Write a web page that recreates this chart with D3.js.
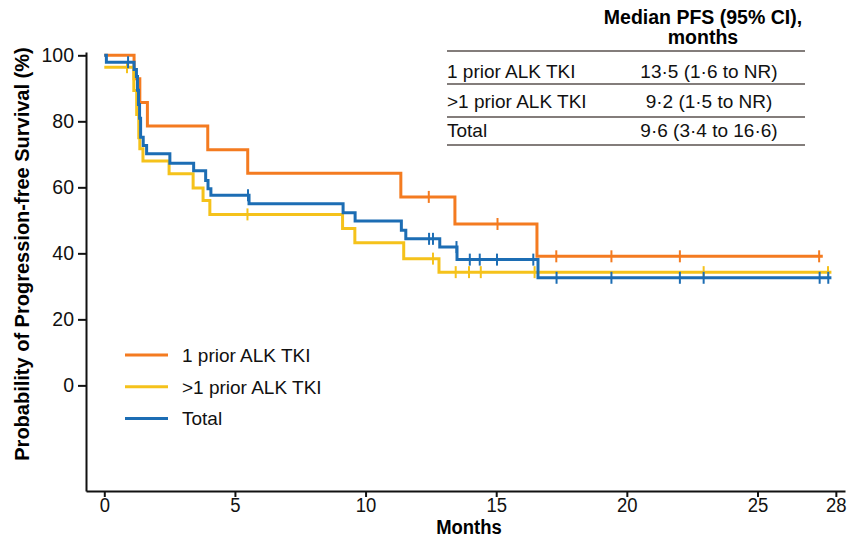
<!DOCTYPE html>
<html>
<head>
<meta charset="utf-8">
<script src="https://cdn.jsdelivr.net/npm/d3@7"></script>
<style>
body { margin: 0; background: #fff; }
text { font-family: "Liberation Sans", Arial, sans-serif; }
</style>
</head>
<body>
<script>
// KM curves: step times (months) and survival (%) after each step
var orangeTimes = [0, 1.14, 1.36, 1.65, 3.96, 5.49, 11.35, 13.42, 16.56, 27.5];
var orangeSurv = [100, 92.9, 85.7, 78.6, 71.4, 64.3, 57.1, 48.9, 39.1, 39.1];
var orangeCensor = [12.42, 15.05, 17.3, 19.41, 22.03, 27.36];

var yellowTimes = [0, 1.13, 1.24, 1.32, 1.36, 1.48, 2.48, 3.4, 3.78, 4.04, 9.12, 9.59, 11.46, 12.81, 27.83];
var yellowSurv = [96.4, 89.3, 82.1, 75, 71.7, 68, 64.1, 59.8, 56, 51.8, 47.5, 43.2, 38.4, 34.3, 34.3];
var yellowCensor = [0.87, 5.48, 12.58, 13.45, 13.96, 14.41, 16.47, 22.94, 27.7];

var blueTimes = [0, 0.08, 1.14, 1.23, 1.27, 1.31, 1.35, 1.39, 1.49, 1.62, 2.51, 3.42, 3.88, 3.97, 4.08, 5.54, 9.14, 9.6, 11.37, 11.54, 12.84, 13.5, 16.6, 27.83];
var blueSurv = [100, 97.9, 95.7, 93.6, 89.4, 85.1, 80.9, 75.2, 72.7, 70.2, 67.3, 65, 62.1, 59.6, 57.6, 55, 52.3, 49.8, 47, 44.4, 41.9, 38.1, 32.6, 32.6];
var blueCensor = [0.91, 5.5, 12.43, 12.58, 13.48, 13.99, 14.37, 15.03, 16.42, 17.31, 19.41, 22.03, 22.94, 27.38, 27.71];

var xTicks = [0, 5, 10, 15, 20, 25, 28];
var yTicks = [0, 20, 40, 60, 80, 100];

var groupNames = ['1 prior ALK TKI', '>1 prior ALK TKI', 'Total'];
var medianText = ['13\u00b75 (1\u00b76 to NR)', '9\u00b72 (1\u00b75 to NR)', '9\u00b76 (3\u00b74 to 16\u00b76)'];
var colors = ['#f47b20', '#f5c21b', '#1c6db4'];

var series = [
    {times: orangeTimes, surv: orangeSurv, censor: orangeCensor, color: colors[0]},
    {times: yellowTimes, surv: yellowSurv, censor: yellowCensor, color: colors[1]},
    {times: blueTimes, surv: blueSurv, censor: blueCensor, color: colors[2]}
];

var svg = d3.select('body').append('svg')
    .attr('width', 851).attr('height', 538);

var x = d3.scaleLinear().domain([-0.7, 28.35]).range([86, 845]);
var y = d3.scaleLinear().domain([-32, 101]).range([491, 52]);

// axes
var xAxis = svg.append('g')
    .attr('transform', 'translate(0,491)')
    .call(d3.axisBottom(x).tickValues(xTicks).tickSize(6).tickSizeOuter(0).tickPadding(0));
xAxis.selectAll('text')
    .style('font-size', '21px').attr('fill', '#111')
    .attr('transform', 'scale(0.88,1)');

var yAxis = svg.append('g')
    .attr('transform', 'translate(86,0)')
    .call(d3.axisLeft(y).tickValues(yTicks).tickSize(8).tickSizeOuter(0).tickPadding(4));
yAxis.selectAll('text').style('font-size', '19.5px').attr('fill', '#111');

svg.selectAll('.domain, .tick line').attr('stroke', '#111').attr('stroke-width', 2);

svg.append('text')
    .attr('transform', 'translate(469,534) scale(0.9,1)')
    .attr('text-anchor', 'middle')
    .style('font-weight', 'bold').style('font-size', '20.5px')
    .text('Months');

svg.append('text')
    .attr('transform', 'translate(29,254) rotate(-90)')
    .attr('text-anchor', 'middle')
    .style('font-weight', 'bold').style('font-size', '20px')
    .text('Probability of Progression-free Survival (%)');

// curves
var line = d3.line()
    .x(function(d) { return x(d[0]); })
    .y(function(d) { return y(d[1]); })
    .curve(d3.curveStepAfter);

series.forEach(function(s) {
    var pts = s.times.map(function(t, i) { return [t, s.surv[i]]; });
    svg.append('path')
        .datum(pts)
        .attr('fill', 'none')
        .attr('stroke', s.color)
        .attr('stroke-width', 3)
        .attr('d', line);

    svg.selectAll(null)
        .data(s.censor)
        .enter().append('line')
        .attr('x1', function(d) { return x(d); })
        .attr('x2', function(d) { return x(d); })
        .attr('y1', function(d) { return y(s.surv[d3.bisectRight(s.times, d) - 1]) - 6; })
        .attr('y2', function(d) { return y(s.surv[d3.bisectRight(s.times, d) - 1]) + 6; })
        .attr('stroke', s.color)
        .attr('stroke-width', 2);
});

// legend
var legend = svg.append('g');
groupNames.forEach(function(name, i) {
    var ly = 355 + i * 31.7;
    legend.append('line')
        .attr('x1', 125).attr('x2', 168)
        .attr('y1', ly).attr('y2', ly)
        .attr('stroke', colors[i]).attr('stroke-width', 3);
    legend.append('text')
        .attr('x', 182).attr('y', ly + 7)
        .style('font-size', '19px').attr('fill', '#111')
        .text(name);
});

// median table
var tbl = svg.append('g');
tbl.append('text').attr('x', 703).attr('y', 24)
    .attr('text-anchor', 'middle')
    .style('font-weight', 'bold').style('font-size', '19.5px')
    .text('Median PFS (95% CI),');
tbl.append('text').attr('x', 703).attr('y', 44)
    .attr('text-anchor', 'middle')
    .style('font-weight', 'bold').style('font-size', '19.5px')
    .text('months');

var rowLines = [51, 84, 117, 145];
rowLines.forEach(function(ly) {
    tbl.append('line')
        .attr('x1', 447).attr('x2', 805)
        .attr('y1', ly).attr('y2', ly)
        .attr('stroke', '#5a524f').attr('stroke-width', 1.5);
});

groupNames.forEach(function(name, i) {
    var by = 78 + i * 29.5;
    tbl.append('text').attr('x', 447).attr('y', by)
        .style('font-size', '19px').attr('fill', '#111')
        .text(name);
    tbl.append('text').attr('x', 709).attr('y', by)
        .attr('text-anchor', 'middle')
        .style('font-size', '19px').attr('fill', '#111')
        .text(medianText[i]);
});
</script>
</body>
</html>
